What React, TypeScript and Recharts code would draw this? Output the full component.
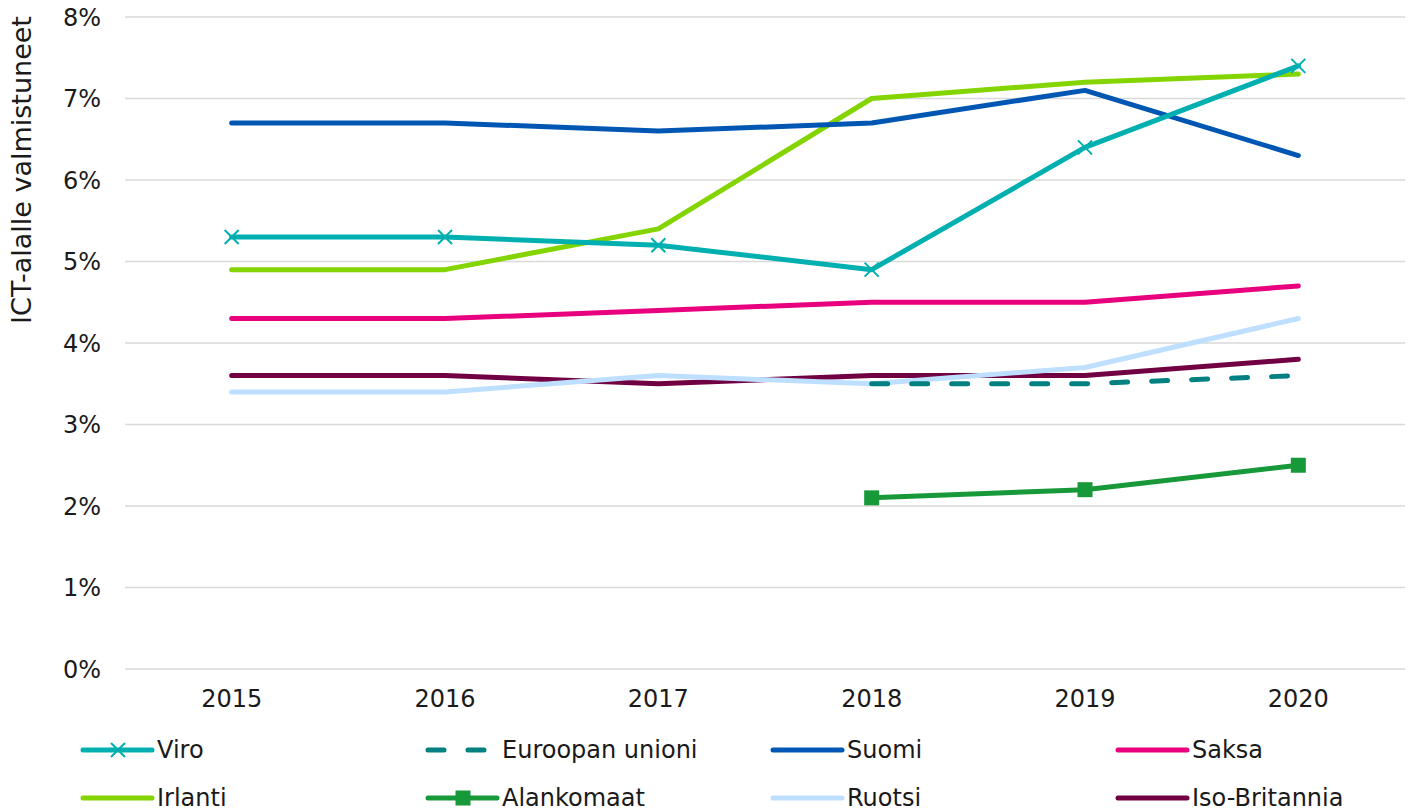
import React from 'react';
import { LineChart, Line, XAxis, YAxis, CartesianGrid } from 'recharts';

const years = ['2015', '2016', '2017', '2018', '2019', '2020'];
const yTicks = [0, 1, 2, 3, 4, 5, 6, 7, 8];

const viro = [5.3, 5.3, 5.2, 4.9, 6.4, 7.4];
const eu = [null, null, null, 3.5, 3.5, 3.6];
const suomi = [6.7, 6.7, 6.6, 6.7, 7.1, 6.3];
const saksa = [4.3, 4.3, 4.4, 4.5, 4.5, 4.7];
const irlanti = [4.9, 4.9, 5.4, 7.0, 7.2, 7.3];
const alankomaat = [null, null, null, 2.1, 2.2, 2.5];
const ruotsi = [3.4, 3.4, 3.6, 3.5, 3.7, 4.3];
const isoBritannia = [3.6, 3.6, 3.5, 3.6, 3.6, 3.8];

const FONT = '"DejaVu Sans", Verdana, sans-serif';

type Marker = 'none' | 'cross' | 'square';

interface SeriesDef {
  key: string;
  name: string;
  values: (number | null)[];
  color: string;
  dashed?: boolean;
  marker: Marker;
}

const SERIES: SeriesDef[] = [
  { key: 'viro', name: 'Viro', values: viro, color: '#00AFAF', marker: 'cross' },
  { key: 'eu', name: 'Euroopan unioni', values: eu, color: '#008080', dashed: true, marker: 'none' },
  { key: 'suomi', name: 'Suomi', values: suomi, color: '#0057B3', marker: 'none' },
  { key: 'saksa', name: 'Saksa', values: saksa, color: '#E8007F', marker: 'none' },
  { key: 'irlanti', name: 'Irlanti', values: irlanti, color: '#84D400', marker: 'none' },
  { key: 'alankomaat', name: 'Alankomaat', values: alankomaat, color: '#17993A', marker: 'square' },
  { key: 'ruotsi', name: 'Ruotsi', values: ruotsi, color: '#BEDFFF', marker: 'none' },
  { key: 'isoBritannia', name: 'Iso-Britannia', values: isoBritannia, color: '#710042', marker: 'none' },
];

const data = years.map((year, i) => {
  const row: Record<string, string | number | null> = { year };
  SERIES.forEach((s) => {
    row[s.key] = s.values[i];
  });
  return row;
});

const CrossDot = (color: string) => (props: any) => {
  const { cx, cy, key } = props;
  if (cx == null || cy == null || props.value == null) return <g key={key} />;
  const r = 7;
  return (
    <path
      key={key}
      d={`M${cx - r},${cy - r}L${cx + r},${cy + r}M${cx - r},${cy + r}L${cx + r},${cy - r}`}
      stroke={color}
      strokeWidth={2}
      fill="none"
    />
  );
};

const SquareDot = (color: string) => (props: any) => {
  const { cx, cy, key } = props;
  if (cx == null || cy == null || props.value == null) return <g key={key} />;
  const s = 7.5;
  return <rect key={key} x={cx - s} y={cy - s} width={s * 2} height={s * 2} fill={color} />;
};

const YLabel = (props: any) => {
  const { viewBox } = props;
  const x = viewBox.x + 23;
  const y = viewBox.y + 153;
  return (
    <text
      x={x}
      y={y}
      transform={`rotate(-90, ${x}, ${y})`}
      textAnchor="middle"
      dominantBaseline="middle"
      fontSize={27}
      fontFamily={FONT}
      fill="#1a1a1a"
    >
      ICT-alalle valmistuneet
    </text>
  );
};

const LegendIcon: React.FC<{ s: SeriesDef }> = ({ s }) => (
  <svg width={76} height={16} style={{ display: 'block' }}>
    <line
      x1={3}
      y1={8}
      x2={72}
      y2={8}
      stroke={s.color}
      strokeWidth={5}
      strokeLinecap="round"
      strokeDasharray={s.dashed ? '16 24' : undefined}
    />
    {s.marker === 'cross' && (
      <path d="M31,1L45,15M31,15L45,1" stroke={s.color} strokeWidth={2} fill="none" />
    )}
    {s.marker === 'square' && <rect x={30.5} y={0.5} width={15} height={15} fill={s.color} />}
  </svg>
);

const App: React.FC = () => {
  const drawOrder = [...SERIES].reverse();
  return (
    <div style={{ position: 'absolute', left: 0, top: 0, width: 1424, height: 812, background: '#fff', fontFamily: FONT }}>
      <LineChart width={1424} height={720} data={data} margin={{ top: 17, right: 19, bottom: 11, left: 0 }}>
        <CartesianGrid vertical={false} stroke="#d9d9d9" strokeWidth={1.5} />
        <XAxis
          dataKey="year"
          axisLine={false}
          tickLine={false}
          tickSize={0}
          tickMargin={21}
          height={40}
          padding={{ left: 106.67, right: 106.67 }}
          tick={{ fontSize: 24, fontFamily: FONT, fill: '#1a1a1a' }}
          interval={0}
        />
        <YAxis
          width={125}
          domain={[0, 8]}
          ticks={yTicks}
          axisLine={false}
          tickLine={false}
          tickSize={0}
          tickMargin={24}
          tickFormatter={(v: number) => `${v}%`}
          tick={{ fontSize: 24, fontFamily: FONT, fill: '#1a1a1a' }}
          label={<YLabel />}
        />
        {drawOrder.map((s) => (
          <Line
            key={s.key}
            type="linear"
            dataKey={s.key}
            name={s.name}
            stroke={s.color}
            strokeWidth={5}
            strokeLinecap="round"
            strokeLinejoin="round"
            strokeDasharray={s.dashed ? '16 24' : undefined}
            dot={s.marker === 'cross' ? CrossDot(s.color) : s.marker === 'square' ? SquareDot(s.color) : false}
            activeDot={false}
            connectNulls={false}
            isAnimationActive={false}
          />
        ))}
      </LineChart>
      <div
        style={{
          position: 'absolute',
          left: 80,
          top: 736,
          display: 'grid',
          gridTemplateColumns: 'repeat(4, 345px)',
          rowGap: 20,
        }}
      >
        {SERIES.map((s) => (
          <div key={s.key} style={{ display: 'flex', alignItems: 'center', height: 28 }}>
            <LegendIcon s={s} />
            <span style={{ fontSize: 24, color: '#1a1a1a', marginLeft: 1, lineHeight: '28px' }}>{s.name}</span>
          </div>
        ))}
      </div>
    </div>
  );
};

export default App;
